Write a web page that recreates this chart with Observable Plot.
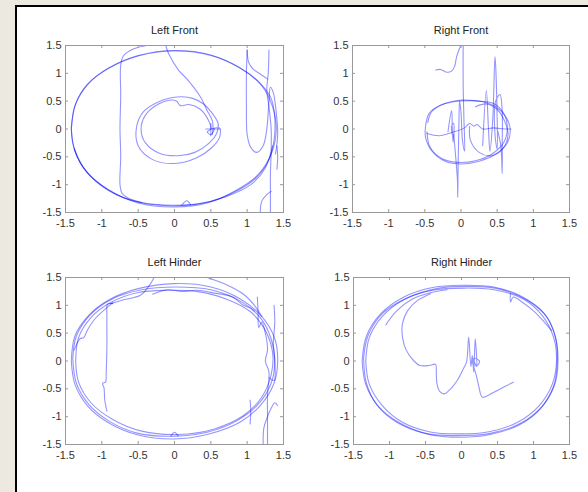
<!DOCTYPE html>
<html><head><meta charset="utf-8">
<script src="https://cdn.jsdelivr.net/npm/d3@7"></script>
<script src="https://cdn.jsdelivr.net/npm/@observablehq/plot@0.6"></script>
<style>
html,body{margin:0;padding:0;background:#ECE9E0;width:588px;height:492px;overflow:hidden;position:relative}
#frame{position:absolute;left:15px;top:5px;width:573px;height:487px;background:#fff;border-left:2px solid #000;border-top:2px solid #000;box-sizing:border-box}
.panel{position:absolute}
.panel svg{display:block;max-width:none}
</style></head><body><div id="frame"></div>
<script>
const ticks = [-1.5, -1, -0.5, 0, 0.5, 1, 1.5];
const tickLabels = ["-1.5", "-1", "-0.5", "0", "0.5", "1", "1.5"];
const titles = ["Left Front", "Right Front", "Left Hinder", "Right Hinder"];

// ---- Left Front ----
const lfLoop1 = [[-1.42,0],[-1.36,0.45],[-1.18,0.82],[-0.9,1.1],[-0.5,1.32],[0,1.41],[0.5,1.33],[0.92,1.08],[1.2,0.78],[1.35,0.4],[1.4,0],[1.34,-0.42],[1.15,-0.82],[0.85,-1.1],[0.45,-1.33],[0,-1.4],[-0.5,-1.33],[-0.92,-1.08],[-1.2,-0.78],[-1.37,-0.4],[-1.42,0]];
const lfLoop2 = [[-1.42,0],[-1.37,0.42],[-1.2,0.8],[-0.92,1.08],[-0.5,1.31],[0,1.4],[0.5,1.32],[0.9,1.1],[1.18,0.82],[1.33,0.55],[1.38,0.2],[1.37,-0.2],[1.3,-0.55],[1.12,-0.88],[0.8,-1.15],[0.4,-1.33],[0,-1.37],[-0.45,-1.32],[-0.8,-1.18],[-1.1,-0.92],[-1.3,-0.6],[-1.4,-0.25],[-1.42,0.05]];
const lfLoop3 = [[1.35,-0.3],[1.25,-0.7],[1.05,-1.0],[0.7,-1.22],[0.3,-1.35],[-0.1,-1.38],[-0.6,-1.28],[-1.0,-1.02],[-1.25,-0.7],[-1.38,-0.35]];
const lfVertical = [[-0.38,1.5],[-0.56,1.44],[-0.7,1.32],[-0.74,1.15],[-0.74,0.6],[-0.75,0],[-0.74,-0.5],[-0.75,-1.0],[-0.72,-1.16],[-0.64,-1.24],[-0.45,-1.32]];
const lfDescend = [[-0.12,1.5],[-0.08,1.35],[0.06,1.05],[0.17,0.9],[0.36,0.57],[0.45,0.33],[0.52,0.15],[0.53,0.0],[0.52,-0.1]];
const lfInner = [[0.5,0.0],[0.62,0.02],[0.62,-0.15],[0.5,-0.35],[0.3,-0.52],[0.0,-0.62],[-0.3,-0.55],[-0.5,-0.3],[-0.52,0.05],[-0.42,0.32],[-0.2,0.5],[0.0,0.57],[0.1,0.58],[0.25,0.55],[0.4,0.45],[0.52,0.28],[0.6,0.1],[0.58,-0.08],[0.48,-0.25],[0.28,-0.42],[0.05,-0.48],[-0.2,-0.44],[-0.4,-0.25],[-0.46,0.0],[-0.4,0.25],[-0.22,0.45],[-0.05,0.52],[0.03,0.5],[0.08,0.42],[0.2,0.44],[0.35,0.36],[0.47,0.15],[0.5,0.0],[0.45,-0.05],[0.5,-0.1],[0.55,0.0]];
const lfCrossH = [[0.43,0.0],[0.63,0.0]];
const lfCrossV = [[0.5,0.1],[0.5,-0.12]];
const lfRight1 = [[1.0,1.42],[1.02,1.2],[1.08,1.08],[1.2,0.97],[1.28,0.9]];
const lfRight2 = [[1.0,1.42],[0.99,1.0],[0.99,0.4],[1.0,-0.1],[1.05,-0.33],[1.13,-0.42],[1.22,-0.3],[1.27,0.0],[1.3,0.5],[1.32,0.75],[1.36,0.65],[1.4,0.3],[1.42,-0.1],[1.39,-0.45]];
const lfRight3 = [[1.3,1.42],[1.29,1.0],[1.27,0.7],[1.3,0.4],[1.33,0.0],[1.33,-0.4],[1.32,-0.8],[1.32,-1.2],[1.32,-1.5]];
const lfRight4 = [[1.41,-0.3],[1.42,-0.5],[1.41,-0.72]];
const lfRight5 = [[1.18,-1.5],[1.2,-1.3],[1.27,-1.18],[1.33,-1.12]];
const lfBump = [[0.1,-1.37],[0.17,-1.29],[0.22,-1.36]];

// ---- Right Front ----
const rfTop = [[-0.35,1.06],[-0.28,1.07],[-0.2,1.02],[-0.13,1.04],[-0.09,1.12],[-0.06,1.3],[-0.02,1.45],[0.0,1.5]];
const rfLoopA = [[-0.49,0.05],[-0.44,0.28],[-0.3,0.42],[-0.1,0.49],[0.1,0.51],[0.3,0.49],[0.48,0.4],[0.62,0.22],[0.68,0.0],[0.64,-0.25],[0.48,-0.45],[0.25,-0.58],[0.0,-0.63],[-0.22,-0.58],[-0.4,-0.4],[-0.49,-0.15],[-0.49,0.05]];
const rfLoopB = [[-0.46,0.12],[-0.4,0.32],[-0.22,0.46],[0.02,0.52],[0.25,0.5],[0.45,0.46],[0.58,0.3],[0.64,0.05],[0.6,-0.22],[0.44,-0.44],[0.2,-0.57],[-0.05,-0.6],[-0.28,-0.52],[-0.43,-0.32],[-0.47,-0.05]];
const rfInnerLine = [[-0.47,-0.08],[-0.3,-0.12],[-0.12,-0.06],[0.05,0.02],[0.12,0.1],[0.18,0.05],[0.22,0.08],[0.3,0.0],[0.45,0.02],[0.6,0.0],[0.69,0.0]];
const rfInnerCircle = [[0.12,0.05],[0.13,-0.2],[0.25,-0.42],[0.42,-0.48],[0.58,-0.35],[0.65,-0.1],[0.6,0.15],[0.5,0.35],[0.35,0.45],[0.2,0.4]];
const rfSpikeL = [[-0.18,-0.05],[-0.13,0.33],[-0.12,0.0],[-0.11,-0.24],[-0.1,0.1],[-0.13,0.05],[-0.12,-0.1]];
const rfSpike0 = [[0.03,1.5],[0.03,0.8],[0.04,0.2],[0.05,-0.4],[0.02,-0.2],[0.0,0.3],[-0.02,0.5],[-0.03,0.0],[-0.04,-0.7],[-0.045,-1.23],[-0.05,-0.9],[-0.08,-0.4],[-0.1,-0.1]];
const rfSpikeR = [[0.3,-0.3],[0.35,0.69],[0.38,0.0],[0.4,-0.4],[0.44,0.2],[0.47,1.3],[0.5,0.2],[0.5,-0.36],[0.47,-0.1],[0.48,0.5],[0.54,0.62],[0.57,0.3],[0.57,-0.2],[0.57,-0.8],[0.55,-0.3],[0.5,0.0]];

// ---- Left Hinder ----
const lhLoop1 = [[-1.42,0.0],[-1.37,0.45],[-1.18,0.82],[-0.9,1.1],[-0.5,1.3],[0,1.39],[0.5,1.33],[0.9,1.12],[1.2,0.8],[1.38,0.4],[1.42,0.0],[1.37,-0.4],[1.18,-0.8],[0.9,-1.1],[0.45,-1.32],[0,-1.4],[-0.5,-1.33],[-0.92,-1.1],[-1.2,-0.8],[-1.37,-0.42],[-1.42,0.0]];
const lhLoop2 = [[-1.36,0.0],[-1.32,0.42],[-1.15,0.78],[-0.88,1.05],[-0.5,1.23],[-0.1,1.27],[0.3,1.25],[0.7,1.12],[1.05,0.88],[1.25,0.55],[1.35,0.15],[1.33,-0.25],[1.2,-0.65],[0.95,-0.98],[0.55,-1.22],[0.05,-1.32],[-0.45,-1.26],[-0.85,-1.05],[-1.15,-0.75],[-1.32,-0.38],[-1.36,0.0]];
const lhLoop3 = [[-1.4,0.05],[-1.35,0.45],[-1.16,0.83],[-0.85,1.12],[-0.45,1.28],[0.0,1.33],[0.5,1.28],[0.9,1.08],[1.18,0.78],[1.33,0.4],[1.38,0.0],[1.33,-0.4],[1.15,-0.78],[0.85,-1.08],[0.45,-1.28],[0,-1.35],[-0.5,-1.3],[-0.9,-1.08],[-1.18,-0.78],[-1.35,-0.4],[-1.4,0.05]];
const lhWiggle = [[-1.38,0.2],[-1.3,0.4],[-1.25,0.42],[-1.2,0.55],[-1.1,0.75],[-0.85,1.05]];
const lhTopExit = [[-0.28,1.5],[-0.35,1.35],[-0.47,1.18],[-0.7,1.1],[-0.88,1.03]];
const lhTopEnter = [[0.45,1.5],[0.7,1.38],[0.95,1.2],[1.1,1.0],[1.2,0.8]];
const lhTopBumpy = [[-0.3,1.2],[-0.1,1.28],[0.1,1.25],[0.3,1.27],[0.55,1.22],[0.8,1.15],[0.95,1.0],[1.05,0.95],[1.1,0.9]];
const lhVert = [[-0.85,1.03],[-0.92,1.02],[-0.93,0.8],[-0.93,0.3],[-0.94,-0.2],[-0.95,-0.38],[-0.99,-0.4],[-0.97,-0.48],[-0.96,-0.7],[-0.93,-0.9]];
const lhRight1 = [[1.14,1.15],[1.15,0.9],[1.16,0.6],[1.2,0.7],[1.25,0.5],[1.28,0.2],[1.25,0.0],[1.3,-0.2],[1.28,-0.6],[1.28,-1.0],[1.28,-1.5]];
const lhRight2 = [[1.37,1.0],[1.38,0.7],[1.36,0.3],[1.38,0.0],[1.37,-0.35],[1.3,-0.3]];
const lhRight3 = [[1.04,-0.7],[1.05,-0.9],[1.04,-1.13]];
const lhRight4 = [[1.22,-1.5],[1.23,-1.2],[1.28,-1.0],[1.33,-0.85],[1.38,-0.75],[1.42,-0.8]];
const lhBump = [[-0.05,-1.35],[0.0,-1.28],[0.05,-1.35]];

// ---- Right Hinder ----
const rhLoop1 = [[-1.38,0.0],[-1.32,0.45],[-1.12,0.85],[-0.8,1.15],[-0.4,1.32],[0.0,1.36],[0.45,1.33],[0.85,1.15],[1.15,0.85],[1.3,0.45],[1.33,0.0],[1.28,-0.45],[1.1,-0.85],[0.8,-1.15],[0.4,-1.32],[0,-1.37],[-0.45,-1.32],[-0.85,-1.12],[-1.15,-0.82],[-1.33,-0.42],[-1.38,0.0]];
const rhLoop2 = [[-1.33,0.0],[-1.28,0.42],[-1.1,0.8],[-0.8,1.1],[-0.4,1.27],[0.05,1.31],[0.45,1.28],[0.85,1.12],[1.12,0.82],[1.28,0.42],[1.32,0.0],[1.26,-0.42],[1.08,-0.8],[0.78,-1.1],[0.38,-1.27],[-0.05,-1.31],[-0.45,-1.27],[-0.82,-1.1],[-1.1,-0.8],[-1.28,-0.42],[-1.33,0.0]];
const rhLoop3 = [[-1.36,0.05],[-1.3,0.45],[-1.1,0.85],[-0.78,1.12],[-0.35,1.3],[0.05,1.34],[0.5,1.3],[0.9,1.1],[1.18,0.8],[1.31,0.4],[1.34,0.0],[1.3,-0.4],[1.13,-0.8],[0.82,-1.12],[0.4,-1.3],[-0.05,-1.34],[-0.5,-1.3],[-0.9,-1.1],[-1.17,-0.8],[-1.32,-0.4],[-1.36,0.05]];
const rhInnerArc = [[-1.05,0.65],[-0.9,0.9],[-0.7,1.1],[-0.45,1.22],[-0.2,1.28]];
const rhInner = [[-0.43,1.21],[-0.62,1.08],[-0.75,0.9],[-0.82,0.67],[-0.82,0.43],[-0.77,0.2],[-0.66,0.0],[-0.58,-0.08],[-0.45,-0.08],[-0.36,-0.06],[-0.35,-0.2],[-0.34,-0.41],[-0.3,-0.55],[-0.24,-0.59],[-0.15,-0.5],[-0.06,-0.35],[0.03,-0.13],[0.07,-0.02],[0.1,0.43],[0.13,-0.1],[0.15,0.1],[0.17,-0.2],[0.19,0.4],[0.21,-0.1],[0.17,0.05],[0.25,0.0],[0.22,-0.08],[0.15,0.0],[0.2,-0.23],[0.24,-0.45],[0.29,-0.65],[0.45,-0.56],[0.6,-0.46],[0.72,-0.38]];
const rhTopRight = [[0.68,1.21],[0.68,1.06],[0.72,1.15],[0.85,1.05],[1.0,0.9],[1.15,0.7],[1.25,0.55]];

const panels = [
  {title: titles[0], left: 25, top: 15, fw: 218, traces: [lfLoop1, lfLoop2, lfLoop3, lfVertical, lfDescend, lfInner, lfCrossH, lfCrossV, lfRight1, lfRight2, lfRight3, lfRight4, lfRight5, lfBump]},
  {title: titles[1], left: 312, top: 15, fw: 217, traces: [rfTop, rfLoopA, rfLoopB, rfInnerLine, rfInnerCircle, rfSpikeL, rfSpike0, rfSpikeR]},
  {title: titles[2], left: 25, top: 247, fw: 218, traces: [lhLoop1, lhLoop2, lhLoop3, lhWiggle, lhTopExit, lhTopEnter, lhTopBumpy, lhVert, lhRight1, lhRight2, lhRight3, lhRight4, lhBump]},
  {title: titles[3], left: 313, top: 247, fw: 216, traces: [rhLoop1, rhLoop2, rhLoop3, rhInnerArc, rhInner, rhTopRight]}
];

const fmt = d => tickLabels[ticks.indexOf(d)];
const ML = 40, MT = 30, MR = 12, MB = 25, FH = 167;
const axisColor = "#999";

for (const p of panels) {
  const data = p.traces.flatMap((t, i) => t.map(([x, y]) => ({x, y, id: i})));
  const fw = p.fw;
  const svg = Plot.plot({
    width: ML + fw + MR, height: MT + FH + MB,
    marginLeft: ML, marginTop: MT, marginRight: MR, marginBottom: MB,
    x: {domain: [-1.5, 1.5], label: null}, y: {domain: [-1.5, 1.5], label: null},
    style: {fontFamily: "'Liberation Sans', Arial, sans-serif", fontSize: "11px", background: "transparent", color: "#333", overflow: "visible"},
    marks: [
      Plot.line(data, {x: "x", y: "y", z: "id", curve: "catmull-rom", stroke: "#0000ff", strokeOpacity: 0.42, strokeWidth: 1.1, clip: true}),
      Plot.frame({stroke: axisColor}),
      Plot.ruleX(ticks, {x: d => d, insetTop: FH - 3, stroke: axisColor}),
      Plot.ruleX(ticks, {x: d => d, insetBottom: FH - 3, stroke: axisColor}),
      Plot.ruleY(ticks, {y: d => d, insetRight: fw - 3, stroke: axisColor}),
      Plot.ruleY(ticks, {y: d => d, insetLeft: fw - 3, stroke: axisColor}),
      Plot.axisX(ticks, {tickSize: 0, tickPadding: 7, tickFormat: fmt, fill: "#333", label: null}),
      Plot.axisY(ticks, {tickSize: 0, tickPadding: 4, tickFormat: fmt, fill: "#333", label: null}),
      Plot.text([p.title], {frameAnchor: "top", dy: -19, fontSize: 11, fill: "#222"})
    ]
  });
  const div = document.createElement("div");
  div.className = "panel";
  div.style.left = p.left + "px";
  div.style.top = p.top + "px";
  div.appendChild(svg);
  document.body.appendChild(div);
}
</script></body></html>
